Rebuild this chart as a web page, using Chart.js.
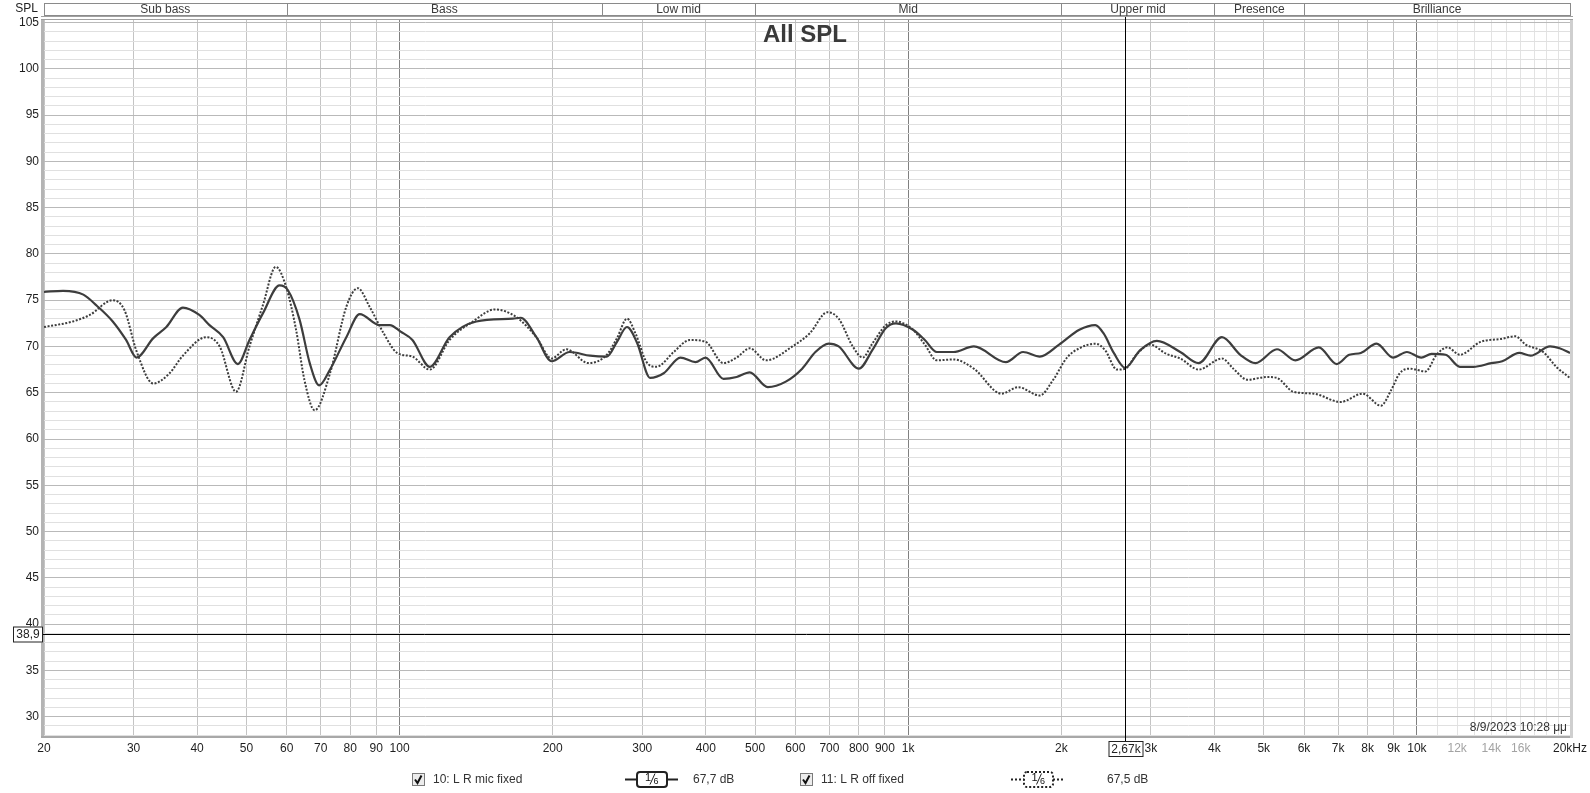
<!DOCTYPE html>
<html>
<head>
<meta charset="utf-8">
<script src="https://cdn.jsdelivr.net/npm/chart.js@4.4.1/dist/chart.umd.min.js"></script>
<style>
  html, body { margin: 0; padding: 0; background: #fff; }
  canvas { display: block; }
</style>
</head>
<body>
<canvas id="spl" width="1590" height="793"></canvas>
<script>
// measurement 10: L R mic fixed (solid)
const micFreq = [20, 21.8, 23.9, 25.4, 27.3, 29, 30.4, 32.8, 34.8, 37.5, 40.4, 42.3, 45, 48.1, 50.7, 53.9, 58.1, 60.3, 63.6, 66.6, 69.5, 73, 78.6, 83.5, 91.4, 95.7, 100.5, 106, 114.7, 125.4, 141.6, 167, 173, 185.8, 199, 216, 237, 255.6, 267.6, 280, 293, 311, 330.6, 356.6, 381.8, 399.6, 433.4, 460, 488, 529.6, 574.6, 618.8, 657, 698, 730, 800, 850, 904, 946, 1022, 1078, 1138, 1228, 1346, 1556, 1682, 1814, 1980, 2170, 2332, 2422, 2536, 2670, 2858, 3082, 3426, 3724, 4138, 4496, 4816, 5308, 5768, 6416, 6956, 7364, 7762, 8332, 8974, 9558, 10202, 10686, 11388, 12150, 12910, 14014, 14716, 15894, 16732, 18272, 19080, 20000];
const micSpl = [75.9, 76.0, 75.6, 74.4, 72.7, 70.7, 68.8, 70.9, 72.1, 74.2, 73.4, 72.3, 71.0, 68.1, 70.7, 73.6, 76.6, 76.1, 72.9, 68.2, 65.8, 67.5, 71.0, 73.5, 72.3, 72.3, 71.6, 70.7, 67.8, 71.0, 72.7, 73.0, 73.1, 71.0, 68.4, 69.4, 69.0, 68.9, 70.5, 72.1, 70.4, 66.6, 67.1, 68.8, 68.3, 68.8, 66.5, 66.7, 67.2, 65.6, 66.2, 67.6, 69.4, 70.3, 70.0, 67.6, 69.6, 72.0, 72.5, 71.8, 70.7, 69.4, 69.4, 70.0, 68.3, 69.4, 68.9, 70.2, 71.8, 72.3, 71.4, 69.3, 67.7, 69.6, 70.6, 69.4, 68.2, 71.0, 69.1, 68.2, 69.7, 68.5, 69.9, 68.1, 69.1, 69.3, 70.3, 68.8, 69.4, 68.8, 69.2, 69.1, 67.8, 67.8, 68.2, 68.4, 69.3, 69.0, 70.0, 69.8, 69.3];

// measurement 11: L R off fixed (dotted)
const offFreq = [20, 22.8, 24.6, 27.3, 28.8, 30.4, 32.8, 35.3, 37.5, 41.7, 44.3, 47.7, 50.7, 53.9, 57.1, 59.8, 62.6, 65, 68.1, 73, 78.6, 82.8, 87.3, 93.1, 98.9, 106, 114.7, 125.4, 139.4, 154, 169.4, 185.8, 199, 212.8, 235, 255.6, 267.6, 280, 291, 306, 320, 346, 372, 399.6, 433, 460, 488, 525.6, 592, 640, 694, 730, 778, 814, 850, 904, 946, 1022, 1078, 1138, 1228, 1346, 1526, 1646, 1814, 1928, 2052, 2170, 2332, 2438, 2572, 2672, 2808, 2990, 3218, 3426, 3724, 4138, 4358, 4644, 5078, 5308, 5718, 6272, 7082, 7824, 8498, 8904, 9252, 9692, 10392, 10934, 11476, 12150, 13346, 14604, 15618, 16360, 17720, 18794, 20000];
const offSpl = [72.1, 72.7, 73.4, 75.0, 73.9, 69.5, 66.0, 67.1, 69.0, 71.0, 70.0, 65.1, 70.0, 74.5, 78.6, 76.5, 71.8, 66.4, 63.1, 67.1, 74.3, 76.3, 74.3, 71.4, 69.3, 68.9, 67.5, 70.7, 72.7, 74.0, 73.2, 71.0, 68.7, 69.7, 68.2, 69.1, 70.9, 73.0, 71.4, 68.3, 67.8, 69.4, 70.7, 70.5, 68.2, 68.8, 69.8, 68.5, 70.0, 71.4, 73.7, 73.0, 70.0, 68.8, 70.3, 72.3, 72.7, 71.8, 70.2, 68.5, 68.6, 67.6, 64.9, 65.6, 64.7, 66.4, 68.8, 69.8, 70.3, 69.6, 67.5, 67.6, 69.1, 70.2, 69.2, 68.7, 67.5, 68.7, 67.6, 66.4, 66.7, 66.6, 65.1, 64.9, 64.0, 64.9, 63.6, 65.3, 67.1, 67.6, 67.3, 69.1, 69.9, 69.1, 70.5, 70.8, 71.1, 70.2, 69.4, 67.8, 66.6];

const xTickValues = [20, 30, 40, 50, 60, 70, 80, 90, 100, 200, 300, 400, 500, 600, 700, 800, 900, 1000, 2000, 3000, 4000, 5000, 6000, 7000, 8000, 9000, 10000, 11000, 12000, 13000, 14000, 15000, 16000, 17000, 18000, 19000, 20000];
const xTickLabels = ['20', '30', '40', '50', '60', '70', '80', '90', '100', '200', '300', '400', '500', '600', '700', '800', '900', '1k', '2k', '3k', '4k', '5k', '6k', '7k', '8k', '9k', '10k', '', '12k', '', '14k', '', '16k', '', '', '', '20kHz'];
const fadedLabels = ['12k', '14k', '16k'];

const bandNames = ['Sub bass', 'Bass', 'Low mid', 'Mid', 'Upper mid', 'Presence', 'Brilliance'];
const bandEdges = [20, 60, 250, 500, 2000, 4000, 6000, 20000];

const legendNames = ['10: L R mic fixed', '11: L R off fixed'];
const legendLevels = ['67,7 dB', '67,5 dB'];

const cursorFreq = 2670;
const cursorSpl = 38.9;
const stamp = '8/9/2023 10:28 μμ';

const FONT = '"Liberation Sans", Arial, sans-serif';
const INK = '#3d3d3d';

function points(fs, vs) {
  return fs.map((f, i) => ({ x: f, y: vs[i] }));
}

function gridX(ctx) {
  const v = ctx.tick && ctx.tick.value;
  if (v === 100 || v === 1000 || v === 10000) return '#808080';
  if (v > 10000 && v < 20000) return '#e3e3e3';
  return '#c4c4c4';
}

function gridY(ctx) {
  const v = ctx.tick && ctx.tick.value;
  return v % 5 === 0 ? '#b9b9b9' : '#e0e0e0';
}

function checkbox(ctx, x, y) {
  ctx.fillStyle = '#ececec';
  ctx.fillRect(x, y, 12, 12);
  ctx.strokeStyle = '#7a7a7a';
  ctx.lineWidth = 1;
  ctx.strokeRect(x + 0.5, y + 0.5, 12, 12);
  ctx.strokeStyle = '#111';
  ctx.lineWidth = 2;
  ctx.beginPath();
  ctx.moveTo(x + 3, y + 6.5);
  ctx.lineTo(x + 5.5, y + 10);
  ctx.lineTo(x + 9.5, y + 2.5);
  ctx.stroke();
}

function sixthSymbol(ctx, x0, x1, bx0, bx1, y, dotted) {
  ctx.save();
  ctx.strokeStyle = '#222';
  ctx.lineWidth = 2;
  if (dotted) ctx.setLineDash([2, 2]);
  ctx.beginPath();
  ctx.moveTo(x0, y); ctx.lineTo(bx0, y);
  ctx.moveTo(bx1, y); ctx.lineTo(x1, y);
  ctx.stroke();
  ctx.beginPath();
  ctx.roundRect(bx0, y - 7.5, bx1 - bx0, 15, 3);
  ctx.fillStyle = '#fff';
  ctx.fill();
  ctx.stroke();
  ctx.setLineDash([]);
  const cx = (bx0 + bx1) / 2;
  ctx.fillStyle = '#111';
  ctx.textBaseline = 'middle';
  ctx.textAlign = 'center';
  ctx.font = `11px ${FONT}`;
  ctx.fillText('1', cx - 4, y - 1.5);
  ctx.font = `9px ${FONT}`;
  ctx.fillText('6', cx + 4, y + 2.5);
  ctx.lineWidth = 1;
  ctx.beginPath();
  ctx.moveTo(cx - 2, y + 5); ctx.lineTo(cx + 3, y - 6);
  ctx.stroke();
  ctx.restore();
}

function boxedText(ctx, text, x0, y0, w, h) {
  ctx.fillStyle = '#fff';
  ctx.fillRect(x0, y0, w, h);
  ctx.strokeStyle = '#222';
  ctx.lineWidth = 1;
  ctx.strokeRect(x0 + 0.5, y0 + 0.5, w - 1, h - 1);
  ctx.fillStyle = '#222';
  ctx.font = `12px ${FONT}`;
  ctx.textAlign = 'center';
  ctx.textBaseline = 'middle';
  ctx.fillText(text, x0 + w / 2, y0 + h / 2 + 0.5);
}

const decorations = {
  id: 'decorations',
  beforeDraw(chart) {
    const ctx = chart.ctx;
    ctx.save();
    ctx.fillStyle = '#fff';
    ctx.fillRect(0, 0, chart.width, chart.height);
    ctx.restore();
  },
  afterDraw(chart) {
    const ctx = chart.ctx;
    const a = chart.chartArea;
    const xs = chart.scales.x, ys = chart.scales.y;
    ctx.save();

    // frame
    ctx.fillStyle = '#b4b4b4';
    ctx.fillRect(a.left - 3, a.top, 3, a.bottom - a.top + 2);
    ctx.fillStyle = '#a8a8a8';
    ctx.fillRect(a.left - 3, a.bottom, a.right - a.left + 6, 2);
    ctx.fillStyle = '#cfcfcf';
    ctx.fillRect(a.right, a.top, 3, a.bottom - a.top + 2);
    ctx.strokeStyle = '#a0a0a0';
    ctx.lineWidth = 1;
    ctx.beginPath();
    ctx.moveTo(a.left - 3, a.top + 0.5); ctx.lineTo(a.right + 3, a.top + 0.5);
    ctx.moveTo(a.left - 3, 16.5); ctx.lineTo(a.right + 3, 16.5);
    ctx.stroke();

    // band header
    ctx.strokeStyle = '#8a8a8a';
    ctx.strokeRect(a.left + 0.5, 3.5, a.right - a.left, 12);
    ctx.font = `12px ${FONT}`;
    ctx.fillStyle = '#3a3a3a';
    ctx.textAlign = 'center';
    ctx.textBaseline = 'middle';
    for (let i = 0; i < bandNames.length; i++) {
      const l = xs.getPixelForValue(bandEdges[i]);
      const r = xs.getPixelForValue(bandEdges[i + 1]);
      if (i > 0) {
        ctx.beginPath();
        ctx.moveTo(Math.round(l) + 0.5, 3.5); ctx.lineTo(Math.round(l) + 0.5, 15.5);
        ctx.stroke();
      }
      ctx.fillText(bandNames[i], (l + r) / 2, 9.5);
    }
    ctx.textAlign = 'right';
    ctx.fillStyle = '#222';
    ctx.fillText('SPL', 38, 9);

    // title
    ctx.font = `bold 24px ${FONT}`;
    ctx.fillStyle = '#3a3a3a';
    ctx.textAlign = 'center';
    ctx.textBaseline = 'alphabetic';
    ctx.fillText('All SPL', 805, 42);

    // timestamp
    ctx.font = `12px ${FONT}`;
    ctx.fillStyle = '#333';
    ctx.textAlign = 'right';
    ctx.textBaseline = 'middle';
    ctx.fillText(stamp, a.right - 3, 727.5);

    // cursor lines
    const cx = Math.round(xs.getPixelForValue(cursorFreq)) + 0.5;
    const cy = Math.round(ys.getPixelForValue(cursorSpl)) + 0.5;
    ctx.strokeStyle = '#000';
    ctx.lineWidth = 1;
    ctx.beginPath();
    ctx.moveTo(cx, 17); ctx.lineTo(cx, 741);
    ctx.moveTo(a.left - 1, cy); ctx.lineTo(a.right, cy);
    ctx.stroke();
    boxedText(ctx, String(cursorSpl).replace('.', ','), 13, cy - 8, 30, 16);
    boxedText(ctx, (cursorFreq / 1000).toFixed(2).replace('.', ',') + 'k', cx - 17, 741, 35, 16);

    // legend
    const ly = 779.5;
    ctx.font = `12px ${FONT}`;
    ctx.textBaseline = 'middle';
    ctx.textAlign = 'left';
    checkbox(ctx, 412, 773);
    ctx.fillStyle = '#333';
    ctx.fillText(legendNames[0], 433, ly);
    sixthSymbol(ctx, 625, 678, 637, 667, ly, false);
    ctx.font = `12px ${FONT}`;
    ctx.textAlign = 'left';
    ctx.textBaseline = 'middle';
    ctx.fillStyle = '#333';
    ctx.fillText(legendLevels[0], 693, ly);
    checkbox(ctx, 800, 773);
    ctx.fillStyle = '#333';
    ctx.fillText(legendNames[1], 821, ly);
    sixthSymbol(ctx, 1011, 1065, 1024, 1053, ly, true);
    ctx.font = `12px ${FONT}`;
    ctx.textAlign = 'left';
    ctx.textBaseline = 'middle';
    ctx.fillStyle = '#333';
    ctx.fillText(legendLevels[1], 1107, ly);

    ctx.restore();
  }
};

new Chart(document.getElementById('spl'), {
  type: 'line',
  data: {
    datasets: [
      {
        label: legendNames[0],
        data: points(micFreq, micSpl),
        borderColor: INK,
        borderWidth: 2.2,
        pointRadius: 0,
        cubicInterpolationMode: 'monotone',
        fill: false
      },
      {
        label: legendNames[1],
        data: points(offFreq, offSpl),
        borderColor: INK,
        borderWidth: 2,
        borderDash: [2, 1.6],
        borderCapStyle: 'butt',
        pointRadius: 0,
        cubicInterpolationMode: 'monotone',
        fill: false
      }
    ]
  },
  options: {
    responsive: false,
    devicePixelRatio: 1,
    animation: false,
    layout: { padding: { top: 19, right: 20, left: 0, bottom: 0 } },
    plugins: { legend: { display: false }, tooltip: { enabled: false }, title: { display: false } },
    scales: {
      x: {
        type: 'logarithmic',
        min: 20,
        max: 20000,
        afterBuildTicks(s) { s.ticks = xTickValues.map(v => ({ value: v })); },
        afterFit(s) { s.height = 57; s.paddingLeft = 0; s.paddingRight = 0; },
        ticks: {
          autoSkip: false,
          maxRotation: 0,
          minRotation: 0,
          padding: 5,
          font: { family: FONT, size: 12 },
          color: ctx => fadedLabels.includes(xTickLabels[ctx.index]) ? '#a3a3a3' : '#1e1e1e',
          callback: (v, i) => xTickLabels[i]
        },
        grid: { drawTicks: false, color: gridX, lineWidth: 1 },
        border: { display: false }
      },
      y: {
        type: 'linear',
        min: 27.91,
        max: 105.38,
        afterBuildTicks(s) {
          const t = [];
          for (let v = 28; v <= 105; v++) t.push({ value: v });
          s.ticks = t;
        },
        afterFit(s) { s.width = 44; s.paddingTop = 0; s.paddingBottom = 0; },
        ticks: {
          autoSkip: false,
          padding: 5,
          font: { family: FONT, size: 12 },
          color: '#1e1e1e',
          callback: v => (v % 5 === 0 ? String(v) : '')
        },
        grid: { drawTicks: false, color: gridY, lineWidth: 1 },
        border: { display: false }
      }
    }
  },
  plugins: [decorations]
});
</script>
</body>
</html>
